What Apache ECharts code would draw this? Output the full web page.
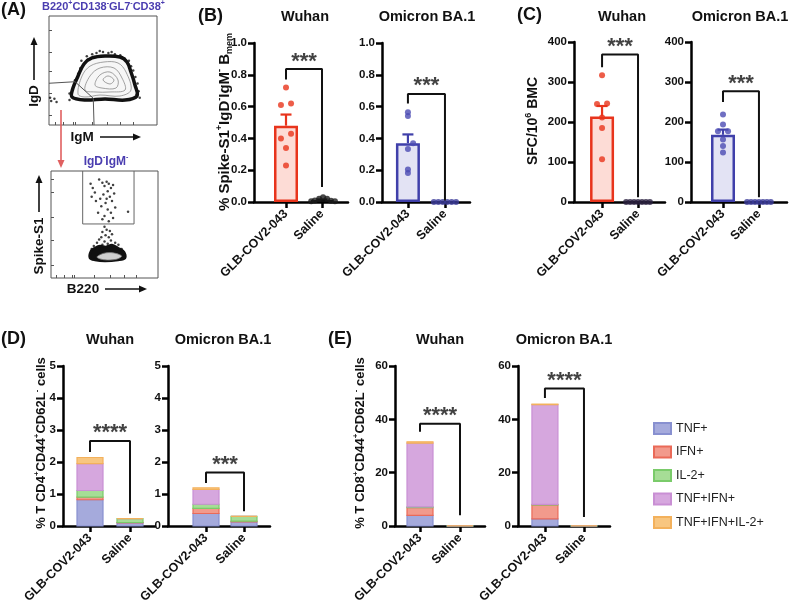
<!DOCTYPE html>
<html>
<head>
<meta charset="utf-8">
<script src="https://cdn.jsdelivr.net/npm/echarts@6/dist/echarts.min.js"></script>
<style>
  html, body { margin: 0; padding: 0; background: #fff; }
  #chart { width: 790px; height: 610px; }
</style>
</head>
<body>
<div id="chart"></div>
<script>
const FONT = "'Liberation Sans', Arial, sans-serif";

// ---- data ----
const groups = ['GLB-COV2-043', 'Saline'];
const cytokines = ['TNF+', 'IFN+', 'IL-2+', 'TNF+IFN+', 'TNF+IFN+IL-2+'];

// (A) flow plots, arbitrary 0-100 log-display units
const flowTopOutline = [[21.3,25.7],[22.2,33.9],[26.9,45],[32.4,56],[39.8,61.5],[51.9,63.3],[65.7,62.4],[72.2,57.8],[75.9,48.6],[79.6,36.7],[81.5,26.6],[70.4,22.9],[51.9,23.9],[33.3,22.9]];
const flowTopContours = [
  [[26.9,28.4],[30.6,45],[38,54],[50.9,57.8],[63.9,56.9],[71.3,48.6],[75.9,32.1],[65.7,26.6],[47.2,27.5],[33.3,25.7]],
  [[33.3,32.1],[38,45],[47.2,52.3],[60.2,52.3],[67.6,43.1],[70.4,32.1],[56.5,30.3],[42.6,30.3]],
  [[42.6,36.7],[47.2,45.9],[56.5,48.6],[63.9,41.3],[62,33.9],[49.1,33.9]],
  [[50,41.3],[54.6,45],[60.2,41.3],[56.5,37.6]]
];
const flowTopDots = [[30,59],[35,63],[44,66],[55,66],[61,65],[70,61],[76,54],[80,44],[83,31],[84,25],[19,23],[19,29],[24,41],[29,52],[40,65],[50,67],[66,64],[78,50],[82,38],[74,59],[2,22],[5,24],[1,25],[7,21],[47,68],[58,67],[36,60],[27,47],[23,36],[81,28]];
const flowTopGate = [[0,38.3],[24.1,39.7],[41,24.5],[41.7,0]];
const flowTopXTicks = [5.6,13,22,24,40,54,66,78];
const flowTopYTicks = [9,29,49,67,87];

const flowBottomBlob = [[36.4,18.7],[37.4,25.2],[41.1,28],[45.8,29.9],[51.4,29],[57,30.8],[62.6,28],[68.2,24.3],[69.2,18.7],[62.6,16.8],[50.5,15.9],[41.1,16.8]];
const flowBottomCore = [[43,19.5],[49,23],[58,23.5],[66,20.5],[61,17.5],[50,17]];
const flowBottomDots = [[37,88],[39,84],[41,80],[38,76],[42,72],[45,92],[48,89],[50,86],[52,90],[54,88],[56,84],[58,87],[53,81],[49,78],[55,76],[57,72],[51,70],[47,67],[53,64],[56,61],[50,58],[48,55],[54,53],[58,56],[44,61],[60,66],[72,62],[52,74],[46,74],[59,79],
  [50,48],[52,45],[48,43],[55,44],[51,40],[47,38],[54,38],[57,41],[45,36],[50,34],[56,35],[43,33],[60,33],[48,31],[53,32],[40,30],[63,31],[58,29],[66,27],[38,27]];
const flowBottomGate = [[29.6,100],[29.6,50.5],[77.6,50.5],[77.6,100]];
const flowBottomXTicks = [5,12,20,22,40,55,68,80];
const flowBottomYTicks = [12,35,57,80,92];

// (B) % Spike-S1+ IgD- IgM- Bmem, points as [jitter, value]
const bWuhanVax = [[0,0.72],[-0.14,0.61],[0.14,0.62],[-0.14,0.40],[0.14,0.43],[0,0.34],[0,0.23]];
const bWuhanSaline = [[-0.3,0.005],[-0.2,0.01],[-0.08,0.02],[0.03,0.03],[0.14,0.02],[0.25,0.008],[0.36,0.005]];
const bWuhanBars = [0.48, 0.012];
const bWuhanErr = [0.07, 0.004];
const bOmicronVax = [[0,0.565],[0,0.541],[0.14,0.37],[0,0.333],[0,0.204],[0,0.183]];
const bOmicronSaline = [[-0.3,0],[-0.18,0],[-0.06,0],[0.06,0],[0.18,0],[0.3,0]];
const bOmicronBars = [0.37, 0];
const bOmicronErr = [0.055, 0];

// (C) SFC / 10^6 BMC
const cWuhanVax = [[0,317],[-0.14,245],[0.14,246],[0,211],[0,185],[0,107]];
const cWuhanSaline = [[-0.33,0],[-0.22,0],[-0.11,0],[0,0],[0.11,0],[0.22,0],[0.33,0]];
const cWuhanBars = [214, 0];
const cWuhanErr = [26, 0];
const cOmicronVax = [[0,219],[0,194],[-0.14,177],[0.14,177],[0,156],[0,140],[0,124]];
const cOmicronSaline = [[-0.33,0],[-0.22,0],[-0.11,0],[0,0],[0.11,0],[0.22,0],[0.33,0]];
const cOmicronBars = [168, 0];
const cOmicronErr = [13, 0];

// (D) % CD4+CD44+CD62L- T cells, per cytokine in legend order
const cd4WuhanVax = [0.82, 0.08, 0.21, 0.84, 0.19];
const cd4WuhanSaline = [0.10, 0.01, 0.12, 0, 0];
const cd4OmicronVax = [0.39, 0.16, 0.13, 0.46, 0.05];
const cd4OmicronSaline = [0.13, 0.02, 0.15, 0, 0];

// (E) % CD8+CD44+CD62L- T cells
const cd8WuhanVax = [4.0, 2.9, 0.3, 23.9, 0.5];
const cd8WuhanSaline = [0.05, 0, 0.05, 0, 0];
const cd8OmicronVax = [2.7, 5.2, 0.2, 37.4, 0.2];
const cd8OmicronSaline = [0.05, 0, 0.05, 0, 0];

// significance brackets: [left leg end, bar height, right leg end]
const bWuhanBracket = [0.77, 0.836, 0.095];
const bOmicronBracket = [0.62, 0.68, 0.01];
const cWuhanBracket = [337, 369, 12];
const cOmicronBracket = [250, 277, 12];
const dWuhanBracket = [2.31, 2.66, 0.39];
const dOmicronBracket = [1.34, 1.67, 0.46];
const eWuhanBracket = [35.3, 38.3, 4.0];
const eOmicronBracket = [48, 51.6, 3.4];

// ---- styles ----
const RED = '#e8341c', RED_FILL = '#fddcd6';
const BLUE = '#4040aa', BLUE_FILL = '#e3e3f4', BLUE_DOT = '#4b4bb3';
const stackFill = ['#a5aadc', '#f29a8c', '#a6dd96', '#d6a7de', '#f8c680'];
const stackLine = ['#8890d0', '#ea6a58', '#7acb6a', '#c98fd4', '#f3b15c'];

const grids = [], xAxes = [], yAxes = [], series = [];

function addGrid(box) {
  grids.push({ left: box[0], top: box[1], width: box[2], height: box[3], show: false, containLabel: false });
  return grids.length - 1;
}

// ---- (A) flow plots ----
function flowPanel(box, xt, yt) {
  const gi = addGrid(box);
  grids[gi].show = true;
  grids[gi].borderColor = '#555';
  grids[gi].borderWidth = 1;
  const ax = ticks => ({
    type: 'value', gridIndex: gi, min: 0, max: 100,
    axisLine: { show: false, onZero: false },
    axisTick: { show: true, inside: true, length: 3, customValues: ticks, lineStyle: { color: '#555', width: 1 } },
    axisLabel: { show: false }, splitLine: { show: false }
  });
  xAxes.push(ax(xt));
  yAxes.push(ax(yt));
  return gi;
}

function polySeries(gi, pts, style) {
  return {
    type: 'custom', xAxisIndex: gi, yAxisIndex: gi, silent: true, data: [[0, 0]], z: 2,
    renderItem: (params, api) => ({
      type: 'polygon',
      shape: { points: pts.map(p => api.coord(p)), smooth: 0.35 },
      style: style
    })
  };
}

const gA1 = flowPanel([49, 16, 108, 109], flowTopXTicks, flowTopYTicks);
series.push(polySeries(gA1, flowTopOutline, { fill: '#f6f6f6', stroke: '#111', lineWidth: 3.5 }));
flowTopContours.forEach(c => series.push(polySeries(gA1, c, { fill: 'none', stroke: '#8a8a8a', lineWidth: 0.8 })));
series.push({ type: 'scatter', xAxisIndex: gA1, yAxisIndex: gA1, data: flowTopDots, symbolSize: 2.5, itemStyle: { color: '#111' }, silent: true, z: 3 });
series.push({ type: 'line', xAxisIndex: gA1, yAxisIndex: gA1, data: flowTopGate, symbol: 'none', lineStyle: { color: '#555', width: 1 }, silent: true, z: 4 });

const gA2 = flowPanel([51, 171, 107, 107], flowBottomXTicks, flowBottomYTicks);
series.push(polySeries(gA2, flowBottomBlob, { fill: '#111', stroke: '#111', lineWidth: 2.5 }));
series.push(polySeries(gA2, flowBottomCore, { fill: '#cfcfcf', stroke: '#777', lineWidth: 0.8 }));
series.push({ type: 'scatter', xAxisIndex: gA2, yAxisIndex: gA2, data: flowBottomDots, symbolSize: 2.5, itemStyle: { color: '#111' }, silent: true, z: 3 });
series.push({ type: 'line', xAxisIndex: gA2, yAxisIndex: gA2, data: flowBottomGate, symbol: 'none', lineStyle: { color: '#666', width: 1 }, silent: true, z: 4 });

// ---- shared axis builders for GraphPad-style panels ----
function catXAxis(gi, range) {
  return {
    type: 'value', gridIndex: gi, min: range[0], max: range[1],
    axisLine: { show: true, onZero: false, lineStyle: { color: '#000', width: 2.5 } },
    axisTick: { show: true, customValues: [0, 1], length: 6, lineStyle: { color: '#000', width: 2.5 } },
    axisLabel: {
      customValues: [0, 1], rotate: 45, margin: 10, formatter: v => groups[Math.round(v)],
      color: '#111', fontSize: 12.5, fontWeight: 'bold', fontFamily: FONT
    },
    splitLine: { show: false }
  };
}
function valYAxis(gi, max, step, dec) {
  return {
    type: 'value', gridIndex: gi, min: 0, max: max, interval: step,
    axisLine: { show: true, onZero: false, lineStyle: { color: '#000', width: 2.5 } },
    axisTick: { show: true, length: 6, lineStyle: { color: '#000', width: 2.5 } },
    axisLabel: { color: '#111', fontSize: 11.5, fontWeight: 'bold', fontFamily: FONT, margin: 7, formatter: v => v.toFixed(dec) },
    splitLine: { show: false }
  };
}
function bracketSeries(gi, br, stars) {
  series.push({
    type: 'line', xAxisIndex: gi, yAxisIndex: gi, symbol: 'none', silent: true, z: 6,
    data: [[0, br[0]], [0, br[1]], [1, br[1]], [1, br[2]]],
    lineStyle: { color: '#111', width: 2 }
  });
  series.push({
    type: 'scatter', xAxisIndex: gi, yAxisIndex: gi, silent: true, z: 6,
    data: [[0.5, br[1]]], symbolSize: 1, itemStyle: { color: 'rgba(0,0,0,0)' },
    label: { show: true, position: 'top', distance: -4, formatter: stars, color: '#111', fontSize: 22, fontWeight: 'bold', fontFamily: FONT }
  });
}

// ---- (B), (C) bar + dots panels ----
function dotPanel(box, range, yMax, step, dec, bars, err, vax, sal, br, stars, col, fill, dot, salDot) {
  const gi = addGrid(box);
  xAxes.push(catXAxis(gi, range));
  yAxes.push(valYAxis(gi, yMax, step, dec));
  series.push({
    type: 'bar', xAxisIndex: gi, yAxisIndex: gi, barWidth: 24, silent: true, z: 2,
    data: [
      { value: [0, bars[0]], itemStyle: { color: fill, borderColor: col, borderWidth: 2.5 } },
      { value: [1, bars[1]], itemStyle: { color: '#fff', borderColor: '#111', borderWidth: 2 } }
    ]
  });
  const errColors = [col, '#111'];
  series.push({
    type: 'custom', xAxisIndex: gi, yAxisIndex: gi, silent: true, z: 3,
    data: bars.map((b, i) => [i, b, err[i]]),
    renderItem: (params, api) => {
      const x = api.value(0), m = api.value(1), e = api.value(2);
      const p0 = api.coord([x, m]), p1 = api.coord([x, m + e]);
      const st = { stroke: errColors[params.dataIndex], lineWidth: 2.2 };
      return {
        type: 'group', children: [
          { type: 'line', shape: { x1: p0[0], y1: p0[1], x2: p1[0], y2: p1[1] }, style: st },
          { type: 'line', shape: { x1: p1[0] - 5.5, y1: p1[1], x2: p1[0] + 5.5, y2: p1[1] }, style: st }
        ]
      };
    }
  });
  series.push({ type: 'scatter', xAxisIndex: gi, yAxisIndex: gi, silent: true, z: 4, symbolSize: 6, data: vax, itemStyle: { color: dot } });
  series.push({ type: 'scatter', xAxisIndex: gi, yAxisIndex: gi, silent: true, z: 4, symbolSize: 6, data: sal.map(p => [1 + p[0], p[1]]), itemStyle: { color: salDot } });
  bracketSeries(gi, br, stars);
}

dotPanel([254, 43, 94, 159], [-0.889, 1.722], 1, 0.2, 1, bWuhanBars, bWuhanErr, bWuhanVax, bWuhanSaline, bWuhanBracket, '***', RED, RED_FILL, RED, '#1a1a1a');
dotPanel([382, 43, 88, 159], [-0.70, 1.676], 1, 0.2, 1, bOmicronBars, bOmicronErr, bOmicronVax, bOmicronSaline, bOmicronBracket, '***', BLUE, BLUE_FILL, BLUE_DOT, '#3b3b9a');
dotPanel([574, 42, 91, 160], [-0.78, 1.75], 400, 100, 0, cWuhanBars, cWuhanErr, cWuhanVax, cWuhanSaline, cWuhanBracket, '***', RED, RED_FILL, RED, '#2a2040');
dotPanel([691, 42, 96, 160], [-0.89, 1.78], 400, 100, 0, cOmicronBars, cOmicronErr, cOmicronVax, cOmicronSaline, cOmicronBracket, '***', BLUE, BLUE_FILL, BLUE_DOT, '#3b3b9a');

// ---- (D), (E) stacked cytokine panels ----
function stackPanel(box, range, yMax, step, vax, sal, br, stars) {
  const gi = addGrid(box);
  xAxes.push(catXAxis(gi, range));
  yAxes.push(valYAxis(gi, yMax, step, 0));
  cytokines.forEach((name, k) => {
    const rows = [vax, sal].map((vals, x) => {
      const base = vals.slice(0, k).reduce((a, b) => a + b, 0);
      return [x, base, base + vals[k]];
    });
    series.push({
      type: 'custom', name: name, xAxisIndex: gi, yAxisIndex: gi, silent: true, z: 3,
      itemStyle: { color: stackFill[k], borderColor: stackLine[k], borderWidth: 1.2 },
      data: rows,
      renderItem: (params, api) => {
        const p0 = api.coord([api.value(0), api.value(1)]);
        const p1 = api.coord([api.value(0), api.value(2)]);
        const w = 26;
        return {
          type: 'rect',
          shape: { x: p0[0] - w / 2, y: p1[1], width: w, height: p0[1] - p1[1] },
          style: { fill: stackFill[k], stroke: stackLine[k], lineWidth: 1.2 }
        };
      }
    });
  });
  bracketSeries(gi, br, stars);
}

stackPanel([63, 366, 92, 160], [-0.675, 1.625], 5, 1, cd4WuhanVax, cd4WuhanSaline, dWuhanBracket, '****');
stackPanel([168, 366, 102, 160], [-1.0, 1.684], 5, 1, cd4OmicronVax, cd4OmicronSaline, dOmicronBracket, '***');
stackPanel([395, 366, 90, 160], [-0.625, 1.625], 60, 20, cd8WuhanVax, cd8WuhanSaline, eWuhanBracket, '****');
stackPanel([518, 366, 92, 160], [-0.69, 1.667], 60, 20, cd8OmicronVax, cd8OmicronSaline, eOmicronBracket, '****');

// ---- text annotations ----
const graphics = [];
function txt(x, y, text, o) {
  o = o || {};
  graphics.push({
    type: 'text', x: x, y: y, rotation: o.rot || 0, silent: true,
    style: {
      text: text, x: 0, y: 0, fill: o.color || '#111',
      font: (o.weight || 'bold') + ' ' + (o.size || 14) + 'px ' + FONT,
      align: o.align || 'center', verticalAlign: 'middle', rich: o.rich
    }
  });
}
function richStyles(size, color) {
  const small = Math.round(size * 0.62);
  return {
    b: { fontSize: size, fontWeight: 'bold', fontFamily: FONT, fill: color, lineHeight: size + 4, verticalAlign: 'middle' },
    s: { fontSize: small, fontWeight: 'bold', fontFamily: FONT, fill: color, lineHeight: small, verticalAlign: 'top' },
    u: { fontSize: small, fontWeight: 'bold', fontFamily: FONT, fill: color, lineHeight: small, verticalAlign: 'bottom' }
  };
}
function arrow(x1, y1, x2, y2, color, w) {
  const dx = x2 - x1, dy = y2 - y1, len = Math.sqrt(dx * dx + dy * dy);
  const ux = dx / len, uy = dy / len, hl = 8, hw = 3.5;
  const bx = x2 - ux * hl, by = y2 - uy * hl;
  graphics.push({ type: 'line', silent: true, shape: { x1: x1, y1: y1, x2: bx, y2: by }, style: { stroke: color, lineWidth: w } });
  graphics.push({ type: 'polygon', silent: true, shape: { points: [[x2, y2], [bx - uy * hw, by + ux * hw], [bx + uy * hw, by - ux * hw]] }, style: { fill: color } });
}

// panel letters
txt(1, 10, '(A)', { size: 18, align: 'left' });
txt(198, 16, '(B)', { size: 18, align: 'left' });
txt(517, 15, '(C)', { size: 18, align: 'left' });
txt(1, 339, '(D)', { size: 18, align: 'left' });
txt(328, 339, '(E)', { size: 18, align: 'left' });

// sub-panel titles
[[305, 17, 'Wuhan'], [427, 17, 'Omicron BA.1'], [622, 17, 'Wuhan'], [740, 17, 'Omicron BA.1'],
 [110, 340, 'Wuhan'], [223, 340, 'Omicron BA.1'], [440, 340, 'Wuhan'], [564, 340, 'Omicron BA.1']]
  .forEach(t => txt(t[0], t[1], t[2], { size: 14.5 }));

// y-axis titles
txt(225, 122, '{b|% Spike-S1}{s|+}{b|IgD}{s|-}{b|IgM}{s|-}{b| B}{u|mem}', { rot: Math.PI / 2, rich: richStyles(15, '#111') });
txt(533, 121, '{b|SFC/10}{s|6}{b| BMC}', { rot: Math.PI / 2, rich: richStyles(14, '#111') });
txt(41, 443, '{b|% T CD4}{s|+}{b|CD44}{s|+}{b|CD62L}{s|-}{b| cells}', { rot: Math.PI / 2, rich: richStyles(13, '#111') });
txt(360, 443, '{b|% T CD8}{s|+}{b|CD44}{s|+}{b|CD62L}{s|-}{b| cells}', { rot: Math.PI / 2, rich: richStyles(13, '#111') });

// flow plot labels
const PURPLE = '#4a3db0';
txt(42, 7, '{b|B220}{s|+}{b|CD138}{s|-}{b|GL7}{s|-}{b|CD38}{s|+}', { align: 'left', rich: richStyles(11, PURPLE) });
txt(106, 162, '{b|IgD}{s|-}{b|IgM}{s|-}', { rich: richStyles(12, PURPLE) });
txt(34, 96, 'IgD', { size: 13.5, rot: Math.PI / 2 });
arrow(34, 80, 34, 37, '#111', 1.6);
txt(82, 137, 'IgM', { size: 13.5 });
arrow(100, 137, 141, 137, '#111', 1.6);
txt(39, 246, 'Spike-S1', { size: 13.5, rot: Math.PI / 2 });
arrow(39, 212, 39, 175, '#111', 1.6);
txt(83, 289, 'B220', { size: 13.5 });
arrow(105, 289, 147, 289, '#111', 1.6);
arrow(61, 110, 61, 168, '#e06060', 1.6);

const chart = echarts.init(document.getElementById('chart'));
chart.setOption({
  animation: false,
  backgroundColor: '#fff',
  grid: grids,
  xAxis: xAxes,
  yAxis: yAxes,
  legend: {
    data: cytokines, orient: 'vertical', left: 648, top: 417,
    itemWidth: 17, itemHeight: 11, itemGap: 10.5, icon: 'rect',
    textStyle: { fontSize: 12.5, color: '#222', fontFamily: FONT }, selectedMode: false
  },
  graphic: graphics,
  series: series
});
</script>
</body>
</html>
